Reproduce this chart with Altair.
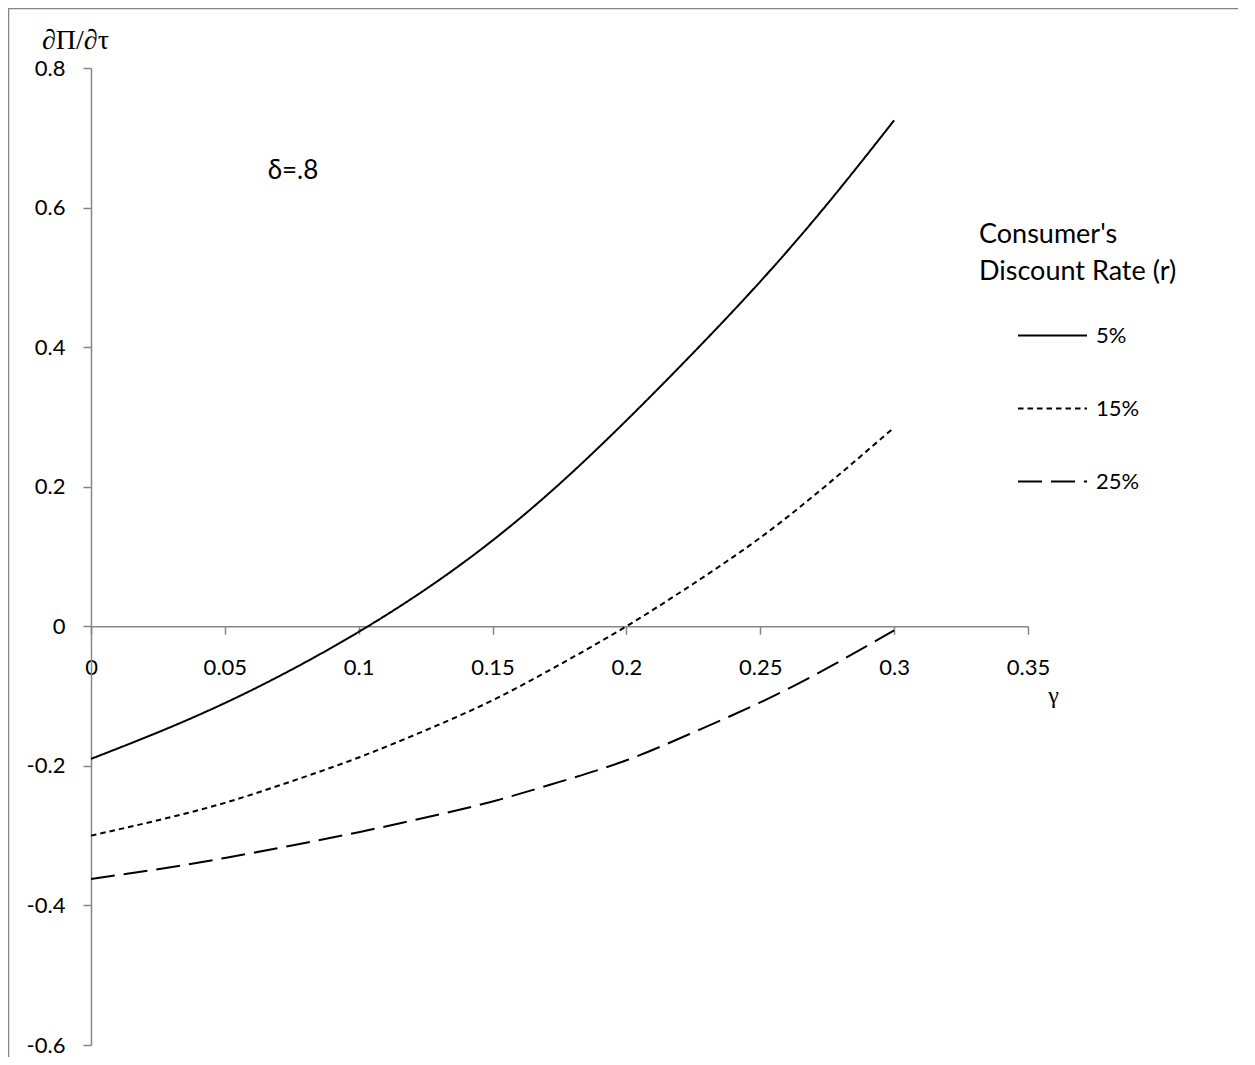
import altair as alt
import pandas as pd

# ---- data ----
gamma = [0.0, 0.025, 0.05, 0.075, 0.1, 0.125, 0.15, 0.175, 0.2, 0.225, 0.25, 0.275, 0.3]
r5 = [-0.190, -0.152, -0.110, -0.062, -0.008, 0.053, 0.123, 0.204, 0.295, 0.392, 0.494, 0.605, 0.725]
r15 = [-0.300, -0.278, -0.253, -0.222, -0.188, -0.149, -0.106, -0.055, 0.000, 0.061, 0.127, 0.203, 0.285]
r25 = [-0.362, -0.348, -0.332, -0.314, -0.295, -0.274, -0.251, -0.223, -0.192, -0.152, -0.109, -0.060, -0.006]
series_names = ["5%", "15%", "25%"]
x_ticks = [0, 0.05, 0.1, 0.15, 0.2, 0.25, 0.3, 0.35]
y_ticks = [-0.6, -0.4, -0.2, 0, 0.2, 0.4, 0.6, 0.8]
annotation_text = ["δ=.8"]
annotation_x = [0.066]
annotation_y = [0.652]

rows = []
for name, vals in zip(series_names, [r5, r15, r25]):
    for g, v in zip(gamma, vals):
        rows.append({"gamma": g, "value": v, "r": name})
df = pd.DataFrame(rows)
ann = pd.DataFrame({"text": annotation_text, "x": annotation_x, "y": annotation_y})

W, H = 937, 977
FONT = "Lato"
AXIS_GRAY = "#868686"

xscale = alt.Scale(domain=[0, 0.35], nice=False, zero=False)
yscale = alt.Scale(domain=[-0.6, 0.8], nice=False, zero=False)

lines = alt.Chart(df).mark_line(color="black", strokeWidth=2, interpolate="natural").encode(
    x=alt.X("gamma:Q", scale=xscale,
            axis=alt.Axis(values=x_ticks, orient="bottom", offset=-(H * 0.6 / 1.4),
                          title="γ", titleX=962, titleY=69, titleAlign="center",
                          titleBaseline="middle", titleFont="Liberation Serif",
                          titleFontSize=24, titleFontWeight="normal", titleColor="black",
                          labelExpr="toString(round(datum.value*100)/100)",
                          grid=False, domainColor=AXIS_GRAY, domainWidth=1.5,
                          tickColor=AXIS_GRAY, tickWidth=1.5, tickSize=8,
                          labelPadding=23, labelFont=FONT, labelFontSize=22,
                          labelColor="black", labelFlush=False, labelOverlap=False)),
    y=alt.Y("value:Q", scale=yscale,
            axis=alt.Axis(values=y_ticks, title="∂Π/∂τ", titleAngle=0, titleX=-16, titleY=-28,
                          titleAlign="center", titleBaseline="middle",
                          titleFont="Liberation Serif", titleFontSize=28,
                          titleFontWeight="normal", titleColor="black",
                          labelExpr="datum.value == 0 ? '0' : toString(round(datum.value*10)/10)",
                          grid=False, domainColor=AXIS_GRAY, domainWidth=1.5,
                          tickColor=AXIS_GRAY, tickWidth=1.5, tickSize=8,
                          labelPadding=18, labelFont=FONT, labelFontSize=22,
                          labelColor="black", labelFlush=False, labelOverlap=False)),
    strokeDash=alt.StrokeDash(
        "r:N",
        scale=alt.Scale(domain=series_names, range=[[1, 0], [5.5, 4], [24, 9]]),
        sort=series_names,
        legend=alt.Legend(
            title=["Consumer's", "Discount Rate (r)"],
            orient="none", legendX=888, legendY=154,
            titleFont=FONT, titleFontSize=27, titleFontWeight="normal",
            titleColor="black", titleLineHeight=37, titlePadding=14, titleLimit=400,
            labelFont=FONT, labelFontSize=22, labelColor="black",
            symbolType="stroke", symbolSize=4761, symbolStrokeWidth=2,
            symbolStrokeColor="black", symbolOffset=38, labelOffset=8,
            rowPadding=26, padding=0,
        ),
    ),
)

note = alt.Chart(ann).mark_text(align="left", baseline="middle", font=FONT, fontSize=26,
                                color="black").encode(
    x=alt.X("x:Q", scale=xscale), y=alt.Y("y:Q", scale=yscale), text="text:N")

frame_top = alt.Chart(ann).mark_rule(color=AXIS_GRAY, strokeWidth=1.5).encode(
    x=alt.value(-83), x2=alt.value(W + 210), y=alt.value(-59.5))
frame_left = alt.Chart(ann).mark_rule(color=AXIS_GRAY, strokeWidth=1.5).encode(
    x=alt.value(-82.5), y=alt.value(-60), y2=alt.value(H + 12))

chart = alt.layer(lines, note, frame_top, frame_left).properties(
    width=W, height=H,
    autosize=alt.AutoSizeParams(type="none"),
    padding={"left": 83, "top": 60, "right": 210, "bottom": 12},
).configure_view(stroke=None)

chart.save("out.html", embed_options={"renderer": "svg", "actions": False})
